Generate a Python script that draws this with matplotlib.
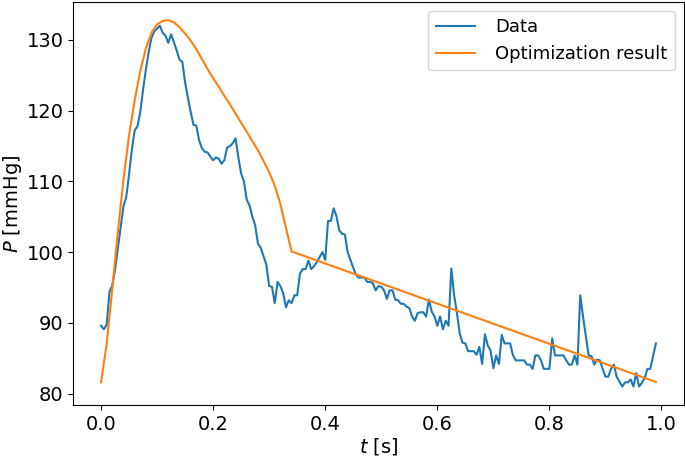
import numpy as np
import matplotlib.pyplot as plt

# measured pressure, sampled every 5 ms
t_data = np.arange(199) * 0.005
p_data = [
    89.6, 89.1, 89.7, 94.4, 95.3, 97.5, 100.5, 103.5, 106.5, 107.8,
    111.0, 114.5, 117.2, 117.8, 119.8, 123.0, 125.8, 128.3, 130.3, 131.2,
    131.6, 132.0, 131.0, 130.6, 129.6, 130.8, 129.7, 128.5, 127.2, 126.9,
    124.0, 121.8, 119.8, 118.0, 117.9, 115.8, 114.7, 114.2, 114.1, 113.5,
    113.0, 113.4, 113.2, 112.5, 113.0, 114.8, 115.0, 115.4, 116.1, 113.4,
    111.1, 110.0, 107.4, 106.6, 105.0, 103.8, 101.2, 100.6, 99.4, 98.2,
    95.2, 95.1, 92.8, 95.8, 95.2, 94.2, 92.2, 93.2, 92.8, 93.9,
    93.9, 97.0, 97.6, 97.6, 98.8, 97.6, 98.0, 98.6, 99.3, 100.0,
    98.9, 104.4, 104.4, 106.2, 105.1, 103.1, 102.6, 102.5, 100.0, 98.9,
    97.8, 96.8, 96.4, 96.4, 96.4, 95.8, 95.8, 95.6, 94.6, 95.2,
    95.1, 94.6, 93.4, 94.6, 94.6, 93.3, 93.2, 92.7, 92.7, 92.3,
    92.1, 90.9, 90.3, 91.4, 91.5, 91.5, 90.9, 93.3, 91.6, 90.9,
    89.6, 90.9, 89.1, 90.3, 89.6, 97.7, 93.9, 91.4, 88.5, 87.2,
    87.1, 86.0, 86.0, 86.0, 85.5, 86.6, 84.2, 88.4, 86.8, 86.1,
    83.6, 85.4, 84.2, 88.3, 87.1, 87.1, 87.1, 85.4, 84.7, 84.7,
    84.7, 84.7, 84.1, 84.1, 83.5, 85.4, 85.4, 84.7, 83.5, 83.5,
    83.5, 87.8, 85.4, 85.4, 85.4, 85.4, 84.7, 84.1, 84.1, 85.4,
    84.1, 93.9, 90.9, 88.2, 85.4, 85.3, 84.1, 84.8, 84.7, 83.5,
    82.4, 82.4, 83.5, 84.1, 82.4, 81.7, 81.0, 81.6, 81.6, 82.0,
    81.0, 82.9, 81.0, 81.5, 82.2, 83.5, 83.5, 85.3, 87.1,
]

# model output (straight after the kink)
t_fit = [0.00, 0.01, 0.02, 0.03, 0.04, 0.05, 0.06, 0.07, 0.08, 0.09,
         0.10, 0.11, 0.12, 0.13, 0.14, 0.15, 0.16, 0.17, 0.18, 0.19,
         0.20, 0.21, 0.22, 0.23, 0.24, 0.25, 0.26, 0.27, 0.28, 0.29,
         0.30, 0.31, 0.32, 0.33, 0.34, 0.99]
p_fit = [81.6, 87.0, 94.8, 102.8, 110.3, 116.5, 121.5, 125.6, 128.8, 131.0,
         132.2, 132.7, 132.8, 132.5, 131.8, 130.9, 129.9, 128.7, 127.3, 125.9,
         124.6, 123.4, 122.1, 120.9, 119.6, 118.3, 117.0, 115.7, 114.4, 112.9,
         111.3, 109.4, 106.8, 103.4, 100.1, 81.65]

fig = plt.figure(figsize=(6.85, 4.58), dpi=100)
ax = fig.add_axes([0.107, 0.116, 0.891, 0.88])
ax.plot(t_data, p_data, color="tab:blue", lw=1.5, label="Data")
ax.plot(t_fit, p_fit, color="tab:orange", lw=1.5, label="Optimization result")

ax.set_xlabel("$t$ [s]", fontsize=14, labelpad=2)
ax.set_ylabel("$P$ [mmHg]", fontsize=14, labelpad=2)
ax.tick_params(labelsize=14)
ax.legend(loc="upper right", fontsize=13, handlelength=2.2, handletextpad=1.1)

fig.savefig("out.png", dpi=100)
